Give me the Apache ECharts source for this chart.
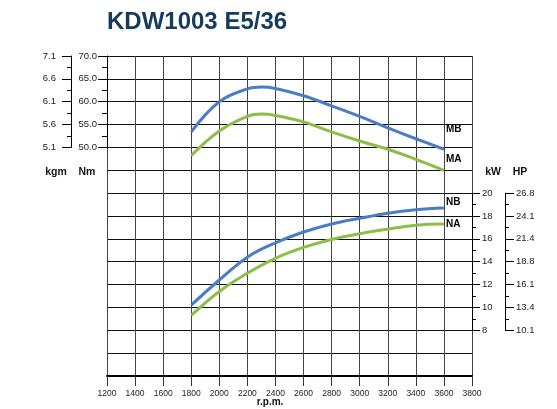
<!DOCTYPE html>
<html>
<head>
<meta charset="utf-8">
<script src="https://cdn.jsdelivr.net/npm/echarts@6/dist/echarts.min.js"></script>
<style>html,body{margin:0;padding:0;background:#fff;}#c{width:557px;height:409px;}</style>
</head>
<body>
<div id="c"></div>
<script>
// ---- data ----
var rpmTorque = [1800, 2000, 2200, 2300, 2400, 2600, 2800, 3000, 3200, 3400, 3600];
var torqueMB  = [53.4, 60.0, 62.8, 63.2, 62.9, 61.3, 59.1, 56.8, 54.3, 51.9, 49.6];
var torqueMA  = [48.2, 53.6, 56.8, 57.3, 57.0, 55.6, 53.4, 51.4, 49.6, 47.4, 45.0];
var rpmPower  = [1800, 2000, 2200, 2400, 2600, 2800, 3000, 3200, 3400, 3600];
var powerNB   = [10.2, 12.4, 14.4, 15.65, 16.6, 17.3, 17.8, 18.25, 18.55, 18.7];
var powerNA   = [9.3, 11.4, 13.0, 14.3, 15.25, 15.95, 16.45, 16.85, 17.2, 17.3];
var kgmLabels = ['5.1', '5.6', '6.1', '6.6', '7.1'];
var hpLabels  = ['10.1', '13.4', '16.1', '18.8', '21.4', '24.1', '26.8'];
var seriesNames = ['MB', 'MA', 'NB', 'NA'];
var titleText = 'KDW1003 E5/36';

function pairs(xs, ys) { return xs.map(function (x, i) { return [x, ys[i]]; }); }

var FONT = 'Liberation Sans, Arial, Helvetica, sans-serif';
var BLUE = '#4a7dc4', GREEN = '#8dbe4a';
var L = 107, W = 365, T = 56, U = 320 / 14;

var chart = echarts.init(document.getElementById('c'), null, {renderer: 'canvas'});
var hiddenX = function (gi) {
  return {gridIndex: gi, type: 'value', min: 1200, max: 3800, interval: 200, show: false};
};
var lbl = {color: '#222', fontSize: 9.5, fontFamily: FONT};
chart.setOption({
  animation: false,
  textStyle: {fontFamily: FONT},
  title: {text: titleText, left: 107, top: 10, padding: 0,
    textStyle: {fontSize: 24, color: '#173b5c', fontWeight: 'bold', fontFamily: FONT}},
  grid: [
    {left: L, top: T, width: W, height: 14 * U},
    {left: L, top: T, width: W, height: 4 * U},
    {left: L, top: T + 6 * U, width: W, height: 6 * U}
  ],
  xAxis: [
    {gridIndex: 0, type: 'value', min: 1200, max: 3800, interval: 200,
      axisLine: {show: true, onZero: false, lineStyle: {color: '#000', width: 2}},
      axisTick: {show: true, length: 10, lineStyle: {color: '#333', width: 1}},
      axisLabel: {color: '#222', fontSize: 8.5, margin: 13, fontFamily: FONT,
        formatter: function (v) { return String(v); }},
      splitLine: {show: true, lineStyle: {color: '#444', width: 1}}},
    hiddenX(1), hiddenX(2)
  ],
  yAxis: [
    {gridIndex: 0, type: 'value', min: 0, max: 14, interval: 1,
      axisLine: {show: false}, axisTick: {show: false}, axisLabel: {show: false},
      splitLine: {show: true, lineStyle: {color: '#111', width: 1}}},
    {gridIndex: 1, type: 'value', min: 50, max: 70, interval: 5, position: 'left', offset: 0,
      axisLine: {show: true, lineStyle: {color: '#000', width: 1}},
      axisTick: {show: true, length: 9, lineStyle: {color: '#000'}},
      minorTick: {show: true, splitNumber: 2, length: 5, lineStyle: {color: '#000'}},
      axisLabel: Object.assign({margin: 10, formatter: function (v) { return v.toFixed(1); }}, lbl),
      splitLine: {show: false}},
    {gridIndex: 1, type: 'value', min: 0, max: 4, interval: 1, position: 'left', offset: 36,
      axisLine: {show: true, lineStyle: {color: '#000', width: 1}},
      axisTick: {show: true, length: 9, lineStyle: {color: '#000'}},
      minorTick: {show: true, splitNumber: 2, length: 4, lineStyle: {color: '#000'}},
      axisLabel: Object.assign({margin: 15, formatter: function (v) { return kgmLabels[Math.round(v)]; }}, lbl),
      splitLine: {show: false}},
    {gridIndex: 2, type: 'value', min: 8, max: 20, interval: 2, position: 'right', offset: 0,
      axisLine: {show: true, lineStyle: {color: '#000', width: 1}},
      axisTick: {show: true, length: 8, lineStyle: {color: '#000'}},
      minorTick: {show: true, splitNumber: 2, length: 4, lineStyle: {color: '#000'}},
      axisLabel: Object.assign({margin: 10}, lbl),
      splitLine: {show: false}},
    {gridIndex: 2, type: 'value', min: 0, max: 6, interval: 1, position: 'right', offset: 33,
      axisLine: {show: true, lineStyle: {color: '#000', width: 1}},
      axisTick: {show: true, length: 9, lineStyle: {color: '#000'}},
      minorTick: {show: true, splitNumber: 2, length: 4, lineStyle: {color: '#000'}},
      axisLabel: Object.assign({margin: 11, formatter: function (v) { return hpLabels[Math.round(v)]; }}, lbl),
      splitLine: {show: false}}
  ],
  series: [
    {name: seriesNames[0], xAxisIndex: 1, yAxisIndex: 1, data: pairs(rpmTorque, torqueMB), offsetY: -20},
    {name: seriesNames[1], xAxisIndex: 1, yAxisIndex: 1, data: pairs(rpmTorque, torqueMA), offsetY: -11},
    {name: seriesNames[2], xAxisIndex: 2, yAxisIndex: 3, data: pairs(rpmPower, powerNB), offsetY: -6},
    {name: seriesNames[3], xAxisIndex: 2, yAxisIndex: 3, data: pairs(rpmPower, powerNA), offsetY: 0}
  ].map(function (s, i) {
    var col = (i % 2 === 0) ? BLUE : GREEN;
    return {
      name: s.name, type: 'line', xAxisIndex: s.xAxisIndex, yAxisIndex: s.yAxisIndex, data: s.data,
      smooth: 0.4, symbol: 'none', clip: false, z: 5,
      lineStyle: {color: col, width: 3},
      endLabel: {show: true, formatter: s.name, position: 'right', distance: 2, offset: [0, s.offsetY],
        color: '#000', fontWeight: 'bold', fontSize: 10, fontFamily: FONT}
    };
  }),
  graphic: [
    {type: 'text', x: 56, y: 172, style: {text: 'kgm', fill: '#111', font: 'bold 10.5px ' + FONT, textAlign: 'center', textVerticalAlign: 'middle'}},
    {type: 'text', x: 87, y: 172, style: {text: 'Nm', fill: '#111', font: 'bold 10.5px ' + FONT, textAlign: 'center', textVerticalAlign: 'middle'}},
    {type: 'text', x: 493, y: 172, style: {text: 'kW', fill: '#111', font: 'bold 10.5px ' + FONT, textAlign: 'center', textVerticalAlign: 'middle'}},
    {type: 'text', x: 520, y: 172, style: {text: 'HP', fill: '#111', font: 'bold 10.5px ' + FONT, textAlign: 'center', textVerticalAlign: 'middle'}},
    {type: 'text', x: 270, y: 402, style: {text: 'r.p.m.', fill: '#111', font: 'bold 10px ' + FONT, textAlign: 'center', textVerticalAlign: 'middle'}}
  ]
});
</script>
</body>
</html>
